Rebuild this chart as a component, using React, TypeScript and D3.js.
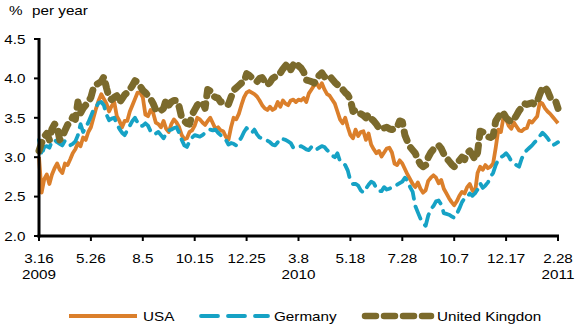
import React from "react";
import * as d3 from "d3";

// 10-year government bond yields, % per year, sampled twice a week (Mar 2009 – Feb 2011)
const usa = [
  3.00, 2.55, 2.72, 2.78, 2.66, 2.78, 2.86, 2.92, 2.84, 2.80,
  2.92, 2.90, 2.97, 3.05, 3.10, 3.18, 3.14, 3.25, 3.22, 3.32,
  3.38, 3.50, 3.62, 3.72, 3.80, 3.74, 3.68, 3.58, 3.65, 3.70,
  3.52, 3.46, 3.38, 3.46, 3.46, 3.58, 3.66, 3.74, 3.82, 3.82,
  3.76, 3.54, 3.52, 3.60, 3.56, 3.44, 3.42, 3.38, 3.46, 3.36,
  3.32, 3.42, 3.48, 3.44, 3.38, 3.28, 3.23, 3.24, 3.32, 3.34,
  3.40, 3.50, 3.48, 3.44, 3.41, 3.46, 3.50, 3.43, 3.36, 3.38,
  3.34, 3.33, 3.26, 3.22, 3.38, 3.50, 3.48, 3.55, 3.66, 3.76,
  3.82, 3.84, 3.82, 3.80, 3.77, 3.72, 3.66, 3.62, 3.60, 3.64,
  3.60, 3.62, 3.70, 3.64, 3.72, 3.68, 3.66, 3.72, 3.73, 3.70,
  3.73, 3.72, 3.75, 3.70, 3.81, 3.86, 3.91, 3.94, 3.88, 3.94,
  3.86, 3.80, 3.78, 3.73, 3.68, 3.58, 3.48, 3.43, 3.50, 3.38,
  3.28, 3.24, 3.35, 3.27, 3.32, 3.33, 3.22, 3.30, 3.16, 3.10,
  3.05, 3.08, 3.01, 3.06, 3.11, 3.12, 3.06, 2.92, 2.90, 2.96,
  2.92, 2.85, 2.78, 2.72, 2.66, 2.62, 2.68, 2.60, 2.55, 2.58,
  2.70, 2.74, 2.77, 2.74, 2.67, 2.71, 2.60, 2.54, 2.48, 2.43,
  2.39, 2.44, 2.51, 2.56, 2.54, 2.62, 2.66, 2.58, 2.55, 2.80,
  2.88, 2.84, 2.90, 2.86, 2.88, 2.92, 3.12, 3.35, 3.32, 3.51,
  3.48, 3.40, 3.36, 3.44, 3.39, 3.34, 3.33, 3.36, 3.37, 3.46,
  3.44, 3.48, 3.52, 3.70, 3.68, 3.62, 3.58, 3.55, 3.51, 3.47,
  3.43,
];

const germany = [
  3.22, 3.02, 3.13, 3.14, 3.12, 3.20, 3.22, 3.19, 3.17, 3.15,
  3.21, 3.18, 3.15, 3.17, 3.20, 3.28, 3.42, 3.32, 3.38, 3.44,
  3.52, 3.60, 3.64, 3.69, 3.70, 3.66, 3.54, 3.47, 3.49, 3.50,
  3.42, 3.36, 3.31, 3.28, 3.34, 3.40, 3.46, 3.50, 3.44, 3.39,
  3.40, 3.43, 3.40, 3.33, 3.29, 3.30, 3.32, 3.28, 3.24, 3.30,
  3.34, 3.35, 3.37, 3.38, 3.31, 3.22, 3.15, 3.13, 3.20, 3.25,
  3.28, 3.27, 3.26, 3.28, 3.31, 3.33, 3.35, 3.34, 3.35, 3.31,
  3.28, 3.25, 3.22, 3.16, 3.18, 3.17, 3.15, 3.20, 3.25, 3.32,
  3.37, 3.33, 3.31, 3.35, 3.29, 3.25, 3.24, 3.22, 3.21, 3.19,
  3.16, 3.15, 3.19, 3.24, 3.23, 3.22, 3.20, 3.18, 3.12, 3.13,
  3.13, 3.14, 3.12, 3.10, 3.09, 3.13, 3.09, 3.10, 3.12, 3.14,
  3.13, 3.09, 3.06, 3.02, 3.00, 3.05, 2.95, 2.92, 2.90, 2.83,
  2.70, 2.66, 2.66, 2.64, 2.58, 2.55, 2.60, 2.65, 2.69, 2.67,
  2.61, 2.57, 2.57, 2.62, 2.59, 2.60, 2.62, 2.63, 2.65, 2.67,
  2.69, 2.74, 2.70, 2.62, 2.56, 2.38, 2.30, 2.22, 2.16, 2.13,
  2.26, 2.34, 2.38, 2.44, 2.45, 2.40, 2.29, 2.28, 2.27, 2.25,
  2.23, 2.28, 2.35, 2.43, 2.48, 2.49, 2.54, 2.51, 2.54, 2.59,
  2.67, 2.61, 2.64, 2.68, 2.75, 2.80, 2.90, 2.97, 3.00, 3.02,
  3.05, 3.01, 2.95, 2.92, 2.90, 2.88, 2.98, 3.05, 3.09, 3.12,
  3.15, 3.19, 3.22, 3.27, 3.31, 3.28, 3.24, 3.19, 3.15, 3.17,
  3.19,
];

const uk = [
  3.08, 3.18, 3.26, 3.30, 3.22, 3.36, 3.42, 3.38, 3.22, 3.26,
  3.34, 3.41, 3.44, 3.51, 3.48, 3.70, 3.56, 3.62, 3.66, 3.70,
  3.76, 3.88, 3.92, 3.94, 3.96, 4.02, 3.88, 3.76, 3.73, 3.76,
  3.78, 3.69, 3.74, 3.79, 3.82, 3.86, 3.91, 3.97, 3.95, 3.90,
  3.85, 3.82, 3.78, 3.74, 3.68, 3.60, 3.58, 3.59, 3.62, 3.73,
  3.66, 3.70, 3.72, 3.72, 3.64, 3.50, 3.46, 3.43, 3.42, 3.54,
  3.60, 3.66, 3.69, 3.70, 3.62, 3.86, 3.84, 3.78, 3.76, 3.75,
  3.70, 3.71, 3.68, 3.67, 3.76, 3.85, 3.88, 3.91, 3.94, 3.95,
  4.06, 4.04, 4.01, 3.98, 3.96, 4.00, 4.01, 3.96, 3.92, 3.95,
  4.00, 4.02, 4.03, 4.07, 4.12, 4.16, 4.20, 4.11, 4.17, 4.12,
  4.16, 4.13, 4.08, 3.98, 3.97, 3.96, 3.94, 3.99, 4.04, 4.07,
  4.02, 4.04, 4.03, 3.99, 3.95, 3.92, 3.89, 3.86, 3.82, 3.79,
  3.73, 3.58, 3.60, 3.56, 3.55, 3.53, 3.50, 3.54, 3.49, 3.46,
  3.42, 3.37, 3.35, 3.37, 3.38, 3.36, 3.35, 3.36, 3.38, 3.46,
  3.45, 3.28, 3.20, 3.13, 3.09, 3.05, 2.97, 2.91, 2.88, 2.90,
  3.00, 3.06, 3.10, 3.13, 3.15, 3.11, 3.04, 2.99, 2.95, 2.91,
  2.88, 2.91, 2.96, 3.00, 2.97, 3.05, 3.08, 3.03, 2.97, 3.06,
  3.33, 3.32, 3.28, 3.26, 3.25, 3.27, 3.46, 3.51, 3.57, 3.56,
  3.50, 3.47, 3.45, 3.48, 3.53, 3.59, 3.63, 3.68, 3.67, 3.68,
  3.69, 3.67, 3.71, 3.80, 3.88, 3.89, 3.84, 3.76, 3.73, 3.72,
  3.62,
];

// Date labels placed every ten weeks along the axis
const xTickLabels = ["3.16", "5.26", "8.5", "10.15", "12.25", "3.8", "5.18", "7.28", "10.7", "12.17", "2.28"];
const yearLabels = ["2009", "", "", "", "", "2010", "", "", "", "", "2011"];
const yTicks = [2.0, 2.5, 3.0, 3.5, 4.0, 4.5];

const seriesNames = ["USA", "Germany", "United Kingdon"];

const COLORS = { usa: "#DB7F2B", germany: "#16A2C5", uk: "#7B6A2C" };
const FONT = "'Liberation Sans', Arial, sans-serif";
const FONT_SIZE = 13.5;
const STRETCH = 1.13;

type LabelProps = {
  x: number;
  y: number;
  anchor?: "start" | "middle" | "end";
  children: React.ReactNode;
};

// Text drawn with a slightly widened face
function Label({ x, y, anchor = "start", children }: LabelProps) {
  return (
    <text
      transform={`translate(${x},${y}) scale(${STRETCH},1)`}
      fontSize={FONT_SIZE}
      textAnchor={anchor}
      fill="#000"
    >
      {children}
    </text>
  );
}

export default function App() {
  const width = 576;
  const height = 327;
  const left = 39;
  const right = 558;
  const top = 39;
  const bottom = 236;

  const x = d3.scaleLinear().domain([0, usa.length - 1]).range([left, right]);
  const y = d3.scaleLinear().domain([2.0, 4.5]).range([bottom, top]);
  const line = d3
    .line<number>()
    .x((_, i) => x(i))
    .y((d) => y(d))
    .curve(d3.curveLinear);

  const tickIdx = d3.range(0, usa.length, 20);

  const legendY = 316;

  return (
    <svg
      width={width}
      height={height}
      style={{ position: "absolute", left: 0, top: 0, background: "#fff" }}
      fontFamily={FONT}
    >
      <rect width={width} height={height} fill="#fff" />

      {/* Unit label */}
      <Label x={9} y={15}>%</Label>
      <Label x={32} y={15}>per year</Label>

      {/* Series */}
      <path d={line(usa) ?? ""} fill="none" stroke={COLORS.usa} strokeWidth={3.8} strokeLinejoin="round" />
      <path
        d={line(germany) ?? ""}
        fill="none"
        stroke={COLORS.germany}
        strokeWidth={3.8}
        strokeDasharray="13 8"
        strokeLinecap="round"
        strokeLinejoin="round"
      />
      <path
        d={line(uk) ?? ""}
        fill="none"
        stroke={COLORS.uk}
        strokeWidth={7}
        strokeDasharray="9 8"
        strokeLinecap="round"
        strokeLinejoin="round"
      />

      {/* Y axis */}
      <line x1={left} x2={left} y1={top - 1} y2={bottom + 1.5} stroke="#000" strokeWidth={3} />
      {yTicks.map((t) => (
        <g key={t}>
          <line x1={left - 5} x2={left} y1={y(t)} y2={y(t)} stroke="#000" strokeWidth={2} />
          <Label x={25.5} y={y(t) + 4.8} anchor="end">
            {t.toFixed(1)}
          </Label>
        </g>
      ))}

      {/* X axis */}
      <line x1={left - 1.5} x2={right + 1} y1={bottom} y2={bottom} stroke="#000" strokeWidth={3} />
      {tickIdx.map((idx, k) => (
        <g key={idx}>
          <line x1={x(idx)} x2={x(idx)} y1={bottom} y2={bottom + 5} stroke="#000" strokeWidth={2} />
          <Label x={x(idx)} y={262.5} anchor="middle">
            {xTickLabels[k]}
          </Label>
          {yearLabels[k] && (
            <Label x={x(idx)} y={279} anchor="middle">
              {yearLabels[k]}
            </Label>
          )}
        </g>
      ))}

      {/* Legend */}
      <line x1={69} x2={137} y1={legendY} y2={legendY} stroke={COLORS.usa} strokeWidth={3.8} />
      <Label x={143} y={legendY + 4.8}>{seriesNames[0]}</Label>
      <line
        x1={201}
        x2={268}
        y1={legendY}
        y2={legendY}
        stroke={COLORS.germany}
        strokeWidth={3.8}
        strokeDasharray="17 10"
        strokeLinecap="round"
      />
      <Label x={274} y={legendY + 4.8}>{seriesNames[1]}</Label>
      <line
        x1={365}
        x2={431}
        y1={legendY}
        y2={legendY}
        stroke={COLORS.uk}
        strokeWidth={6.5}
        strokeDasharray="11 8"
        strokeLinecap="round"
      />
      <Label x={437} y={legendY + 4.8}>{seriesNames[2]}</Label>
    </svg>
  );
}
